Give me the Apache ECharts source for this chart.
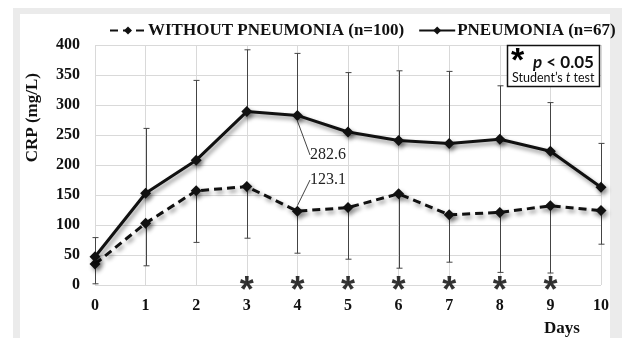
<!DOCTYPE html>
<html><head><meta charset="utf-8">
<script src="https://cdn.jsdelivr.net/npm/echarts@6/dist/echarts.min.js"></script>
<style>html,body{margin:0;padding:0;background:#fff}#c{width:622px;height:338px}</style>
</head><body><div id="c"></div>
<script>
const days = [0,1,2,3,4,5,6,7,8,9,10];
const pneumonia = [47,153,208,289,282.6,255,241,236,243,223,163];
const pneumoniaUpper = [79,261,341,392,386,354,357,356,332,304,236];
const without = [35,103,157,164,123.1,129,152,117,121,132,124];
const withoutLower = [2,32,71,78,53,43,28,38,21,20,68];
const significantDays = [3,4,5,6,7,8,9];
const nameWithout = 'WITHOUT PNEUMONIA (n=100)';
const namePneu = 'PNEUMONIA (n=67)';

const serif = 'Liberation Serif';
const shadow = {shadowColor:'rgba(0,0,0,0.45)', shadowBlur:4, shadowOffsetX:2, shadowOffsetY:3};

function errRender(params, api){
  const x = api.value(0), v = api.value(1), e = api.value(2);
  const p0 = api.coord([x, v]), p1 = api.coord([x, e]);
  const px = Math.round(p0[0]) + 0.5;
  const c = 3;
  return {type:'group', children:[
    {type:'line', shape:{x1:px,y1:p0[1],x2:px,y2:p1[1]}, style:{stroke:'#444',lineWidth:1}},
    {type:'line', shape:{x1:px-c,y1:p1[1],x2:px+c,y2:p1[1]}, style:{stroke:'#444',lineWidth:1}}
  ]};
}

const chart = echarts.init(document.getElementById('c'), null, {renderer:'canvas'});
chart.setOption({
  animation:false,
  backgroundColor:'#fff',
  graphic:[
    {type:'rect', z:-10, shape:{x:13,y:8,width:609,height:330}, style:{fill:'#ebebeb'}, silent:true},
    {type:'rect', z:-9, shape:{x:20,y:14,width:590,height:324}, style:{fill:'#fff'}, silent:true},
    {type:'text', left:24, top:73, rotation:Math.PI/2, style:{text:'CRP (mg/L)', font:'bold 17px "Liberation Serif"', fill:'#111'}},
    {type:'text', left:544, top:320, style:{text:'Days', font:'bold 17px "Liberation Serif"', fill:'#111'}},
    {type:'rect', z:10, shape:{x:507.5,y:45.5,width:92,height:41}, style:{fill:'#fff', stroke:'#111', lineWidth:1.5}},
    {type:'text', z:11, left:511, top:45, style:{text:'*', font:'bold 34px "Liberation Sans"', fill:'#000'}},
    {type:'text', z:11, left:533, top:54, style:{text:'{i|p} < 0.05', font:'bold 17px Lato', fill:'#111',
      rich:{i:{font:'italic bold 17px Lato', fill:'#111'}}}},
    {type:'text', z:11, left:512, top:71, style:{text:'Student\u2019s {i|t} test', font:'12.5px Lato', fill:'#111',
      rich:{i:{font:'italic 12.5px Lato', fill:'#111'}}}}
  ],
  legend:{
    left:104, top:17, itemWidth:36, itemHeight:10, itemGap:14,
    data:[nameWithout, namePneu],
    textStyle:{fontFamily:serif, fontWeight:'bold', fontSize:17, color:'#111', padding:[0,0,0,-3]}
  },
  grid:{left:95, right:21, top:45, bottom:53, containLabel:false},
  xAxis:{type:'value', min:0, max:10, interval:1,
    axisLine:{show:false}, axisTick:{show:false},
    axisLabel:{margin:13, fontFamily:serif, fontWeight:'bold', fontSize:16, color:'#111'},
    splitLine:{show:true, lineStyle:{color:'#d9d9d9', width:1}}
  },
  yAxis:{type:'value', min:0, max:400, interval:50,
    axisLine:{show:false}, axisTick:{show:false},
    axisLabel:{margin:15, fontFamily:serif, fontWeight:'bold', fontSize:16, color:'#111'},
    splitLine:{show:true, lineStyle:{color:'#d9d9d9', width:1}}
  },
  series:[
    {type:'custom', name:'errP', z:1, silent:true, renderItem:errRender,
      data:days.map((d,i)=>[d,pneumonia[i],pneumoniaUpper[i]])},
    {type:'custom', name:'errW', z:1, silent:true, renderItem:errRender,
      data:days.map((d,i)=>[d,without[i],withoutLower[i]])},
    {type:'line', name:nameWithout, z:3,
      symbol:'diamond', symbolSize:11,
      lineStyle:Object.assign({color:'#111', width:3, type:[8,5]}, shadow),
      itemStyle:Object.assign({color:'#111'}, shadow),
      data:days.map((d,i)=> i===4 ? {value:[d,without[i]], label:{show:true}, labelLine:{show:true}} : [d,without[i]]),
      label:{show:false, formatter:p=>String(p.value[1]), fontFamily:serif, fontSize:16, color:'#222'},
      labelLine:{lineStyle:{color:'#444', width:1}},
      labelLayout:{x:328, y:180, align:'center', verticalAlign:'middle'}
    },
    {type:'line', name:namePneu, z:4,
      symbol:'diamond', symbolSize:11,
      lineStyle:Object.assign({color:'#111', width:3}, shadow),
      itemStyle:Object.assign({color:'#111'}, shadow),
      data:days.map((d,i)=> i===4 ? {value:[d,pneumonia[i]], label:{show:true}, labelLine:{show:true}} : [d,pneumonia[i]]),
      label:{show:false, formatter:p=>String(p.value[1]), fontFamily:serif, fontSize:16, color:'#222'},
      labelLine:{lineStyle:{color:'#444', width:1}},
      labelLayout:{x:328, y:155, align:'center', verticalAlign:'middle'}
    },
    {type:'scatter', name:'sig', z:5, silent:true, clip:false, symbol:'circle', symbolSize:2,
      itemStyle:{color:'rgba(0,0,0,0)'},
      data:significantDays.map(d=>[d,0]),
      label:{show:true, position:'bottom', distance:-12, formatter:'*', fontFamily:'Liberation Sans', fontWeight:'bold', fontSize:36, color:'#000'}
    }
  ]
});
</script></body></html>
